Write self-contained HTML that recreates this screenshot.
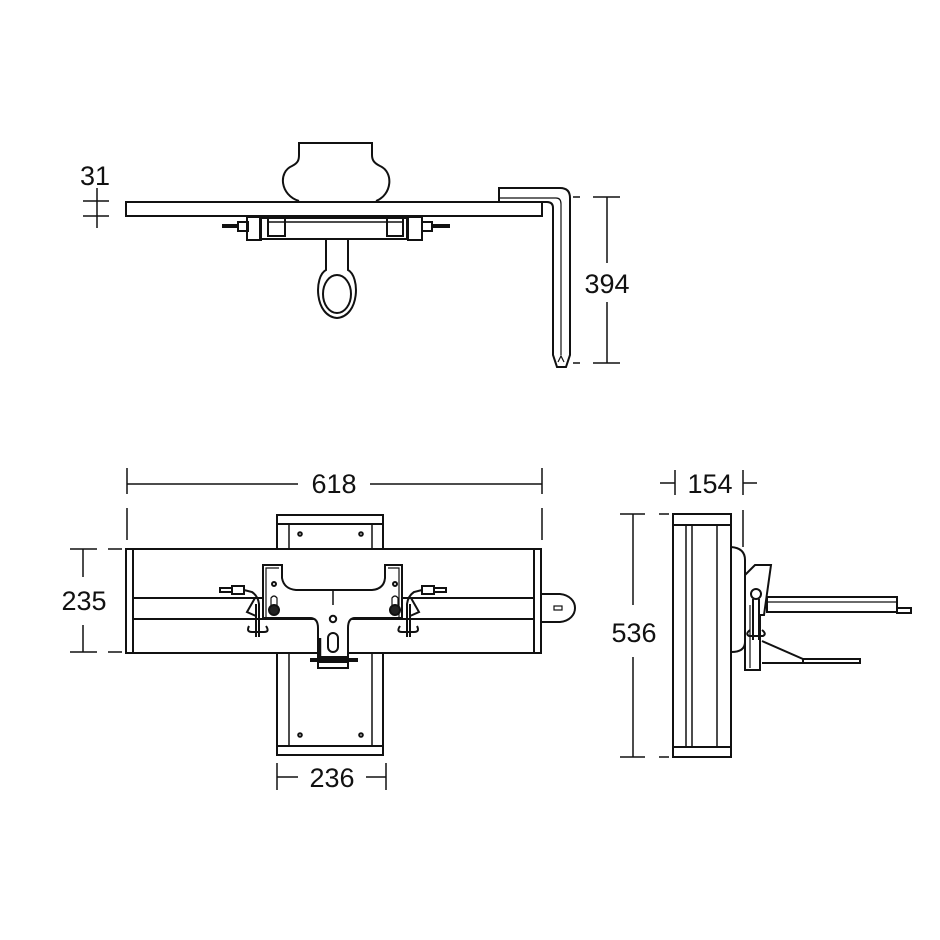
<!DOCTYPE html>
<html><head><meta charset="utf-8"><style>
html,body{margin:0;padding:0;background:#fff;}
svg{display:block;}
text{font-family:"Liberation Sans",Arial,sans-serif;font-size:27px;fill:#111;}
</style></head><body>
<svg width="940" height="940" viewBox="0 0 940 940" xmlns="http://www.w3.org/2000/svg">
<rect width="940" height="940" fill="#fff"/>
<g fill="none" stroke="#111" stroke-width="2">
<!-- ===== TOP VIEW ===== -->
<path d="M299,201 C280,195 278,172 292,166 C298,163 299,160 299,155 L299,143 L372,143 L372,155 C372,160 374,163 380,166 C394,172 392,195 376,201"/>
<rect x="126" y="202" width="416" height="14"/>
<!-- L bar -->
<path d="M499,202 L499,188 L560,188 Q570,188 570,198 L570,355 L566,367 L557,367 L553,355 L553,208 Q553,202 547,202 Z" fill="#fff"/>
<path d="M499,198 L556,198 Q561,198 561,204 L561,355" stroke-width="1.2"/>
<path d="M558,362 L561,356 L564,362" stroke-width="1.2"/>
<!-- bracket under plate -->
<rect x="260" y="218" width="147" height="21"/>
<line x1="268" y1="222" x2="403" y2="222" stroke-width="1.5"/>
<rect x="268" y="218" width="17" height="18"/>
<rect x="387" y="218" width="16" height="18"/>
<rect x="247" y="217" width="14" height="23"/>
<rect x="408" y="217" width="14" height="23"/>
<rect x="238" y="222" width="10" height="9"/>
<rect x="422" y="222" width="10" height="9"/>
<line x1="222" y1="226" x2="238" y2="226" stroke-width="4"/>
<line x1="432" y1="226" x2="450" y2="226" stroke-width="4"/>
<!-- eye -->
<path d="M326,239 L326,270 C314,276 314,316 337,318 C360,316 360,276 348,270 L348,239"/>
<ellipse cx="337" cy="294" rx="14" ry="19"/>
<!-- 31 dimension -->
<g stroke-width="1.5">
<line x1="97" y1="188" x2="97" y2="228"/>
<line x1="83" y1="201" x2="109" y2="201"/>
<line x1="83" y1="216" x2="109" y2="216"/>
</g>
<!-- 394 dimension -->
<g stroke-width="1.5">
<line x1="607" y1="197" x2="607" y2="263"/>
<line x1="607" y1="302" x2="607" y2="363"/>
<line x1="593" y1="197" x2="620" y2="197"/>
<line x1="593" y1="363" x2="620" y2="363"/>
<line x1="573" y1="197" x2="580" y2="197"/>
<line x1="573" y1="363" x2="580" y2="363"/>
</g>

<!-- ===== FRONT VIEW ===== -->
<g stroke-width="1.5">
<line x1="127" y1="484" x2="298" y2="484"/>
<line x1="370" y1="484" x2="542" y2="484"/>
<line x1="127" y1="468" x2="127" y2="494"/>
<line x1="542" y1="468" x2="542" y2="494"/>
<line x1="127" y1="508" x2="127" y2="540"/>
<line x1="542" y1="508" x2="542" y2="540"/>
<line x1="83" y1="549" x2="83" y2="577"/>
<line x1="83" y1="625" x2="83" y2="652"/>
<line x1="70" y1="549" x2="97" y2="549"/>
<line x1="70" y1="652" x2="97" y2="652"/>
<line x1="108" y1="549" x2="122" y2="549"/>
<line x1="108" y1="652" x2="122" y2="652"/>
<line x1="277" y1="777" x2="298" y2="777"/>
<line x1="366" y1="777" x2="386" y2="777"/>
<line x1="277" y1="763" x2="277" y2="790"/>
<line x1="386" y1="763" x2="386" y2="790"/>
</g>
<rect x="277" y="515" width="106" height="34"/>
<line x1="277" y1="524" x2="383" y2="524"/>
<line x1="289" y1="524" x2="289" y2="549" stroke-width="1.5"/>
<line x1="372" y1="524" x2="372" y2="549" stroke-width="1.5"/>
<rect x="277" y="653" width="106" height="102"/>
<line x1="277" y1="746" x2="383" y2="746"/>
<line x1="289" y1="653" x2="289" y2="746" stroke-width="1.5"/>
<line x1="372" y1="653" x2="372" y2="746" stroke-width="1.5"/>
<circle cx="300" cy="534" r="1.8"/><circle cx="361" cy="534" r="1.8"/>
<circle cx="300" cy="735" r="1.8"/><circle cx="361" cy="735" r="1.8"/>
<rect x="126" y="549" width="415" height="104" fill="#fff"/>
<line x1="133" y1="549" x2="133" y2="653"/>
<line x1="534" y1="549" x2="534" y2="653"/>
<line x1="133" y1="598" x2="534" y2="598"/>
<line x1="133" y1="619" x2="534" y2="619"/>
<path d="M541,594 L560,594 C580,596 580,620 560,622 L541,622"/>
<rect x="554" y="606" width="8" height="4" stroke-width="1.2"/>
<path d="M263,618 L263,565 L282,565 L282,578 Q284,589 296,590 L372,590 Q384,589 385,578 L385,565 L402,565 L402,618 L355,618 Q348,618 348,628 L348,657 L318,657 L318,628 Q318,618 310,618 Z" fill="#fff"/>
<path d="M266,618 L266,568 L279,568" stroke-width="1.2"/>
<path d="M399,618 L399,568 L388,568" stroke-width="1.2"/>
<line x1="333" y1="590" x2="333" y2="605" stroke-width="1.5"/>
<circle cx="333" cy="619" r="3.2"/>
<circle cx="274" cy="584" r="2"/><circle cx="395" cy="584" r="2"/>
<circle cx="274" cy="610" r="5" fill="#222"/><circle cx="395" cy="610" r="5" fill="#222"/>
<path d="M271,606 L271,598 Q274,594 277,598 L277,606" stroke-width="1.2"/>
<path d="M392,606 L392,598 Q395,594 398,598 L398,606" stroke-width="1.2"/>
<rect x="328" y="633" width="10" height="19" rx="5"/>
<line x1="320" y1="638" x2="320" y2="656" stroke-width="2.5"/>
<line x1="310" y1="660" x2="358" y2="660" stroke-width="4"/>
<rect x="318" y="662" width="30" height="6"/>
<g>
<path d="M220,588 L232,588 L232,592 L220,592 Z"/>
<rect x="232" y="586" width="12" height="8"/>
<path d="M244,590 L252,592 Q258,596 259,604 L259,637"/>
<path d="M255,598 L247,612 L256,616"/>
<line x1="256" y1="604" x2="256" y2="637"/>
<path d="M249,626 Q246,632 252,632 L264,632 Q270,632 266,626"/>
<path d="M446,588 L434,588 L434,592 L446,592 Z"/>
<rect x="422" y="586" width="12" height="8"/>
<path d="M422,590 L414,592 Q408,596 407,604 L407,637"/>
<path d="M411,598 L419,612 L410,616"/>
<line x1="410" y1="604" x2="410" y2="637"/>
<path d="M400,626 Q396,632 402,632 L414,632 Q420,632 417,626"/>
</g>

<!-- ===== SIDE VIEW ===== -->
<g stroke-width="1.5">
<line x1="660" y1="483" x2="675" y2="483"/>
<line x1="743" y1="483" x2="757" y2="483"/>
<line x1="675" y1="470" x2="675" y2="495"/>
<line x1="743" y1="470" x2="743" y2="495"/>
<line x1="743" y1="510" x2="743" y2="547"/>
<line x1="633" y1="514" x2="633" y2="605"/>
<line x1="633" y1="657" x2="633" y2="757"/>
<line x1="620" y1="514" x2="645" y2="514"/>
<line x1="620" y1="757" x2="645" y2="757"/>
<line x1="659" y1="514" x2="669" y2="514"/>
<line x1="659" y1="757" x2="669" y2="757"/>
</g>
<rect x="673" y="514" width="58" height="243"/>
<line x1="673" y1="525" x2="731" y2="525"/>
<line x1="673" y1="747" x2="731" y2="747"/>
<line x1="686" y1="525" x2="686" y2="747" stroke-width="1.5"/>
<line x1="692" y1="525" x2="692" y2="747" stroke-width="1.5"/>
<line x1="717" y1="525" x2="717" y2="747" stroke-width="1.5"/>
<path d="M731,547 Q745,548 745,560 L745,642 Q745,652 731,652"/>
<path d="M745,575 L755,565 L771,565 L764,615 L760,615 L760,670 L745,670 Z" fill="#fff"/>
<line x1="750" y1="605" x2="750" y2="668" stroke-width="1.2"/>
<circle cx="756" cy="594" r="5"/>
<line x1="753" y1="599" x2="753" y2="640"/>
<line x1="759" y1="599" x2="759" y2="640"/>
<path d="M750,630 Q745,634 749,636 L763,636 Q767,634 762,630"/>
<rect x="767" y="597" width="130" height="15" fill="#fff"/>
<line x1="767" y1="602" x2="896" y2="602" stroke-width="1.2"/>
<rect x="897" y="608" width="14" height="5"/>
<path d="M762,641 L803,659 L860,659 L860,663 L762,663"/>
<line x1="803" y1="659" x2="803" y2="663"/>
</g>
<text x="95" y="185" text-anchor="middle">31</text>
<text x="607" y="293" text-anchor="middle">394</text>
<text x="334" y="493" text-anchor="middle">618</text>
<text x="84" y="610" text-anchor="middle">235</text>
<text x="332" y="787" text-anchor="middle">236</text>
<text x="710" y="493" text-anchor="middle">154</text>
<text x="634" y="642" text-anchor="middle">536</text>
</svg>
</body></html>
